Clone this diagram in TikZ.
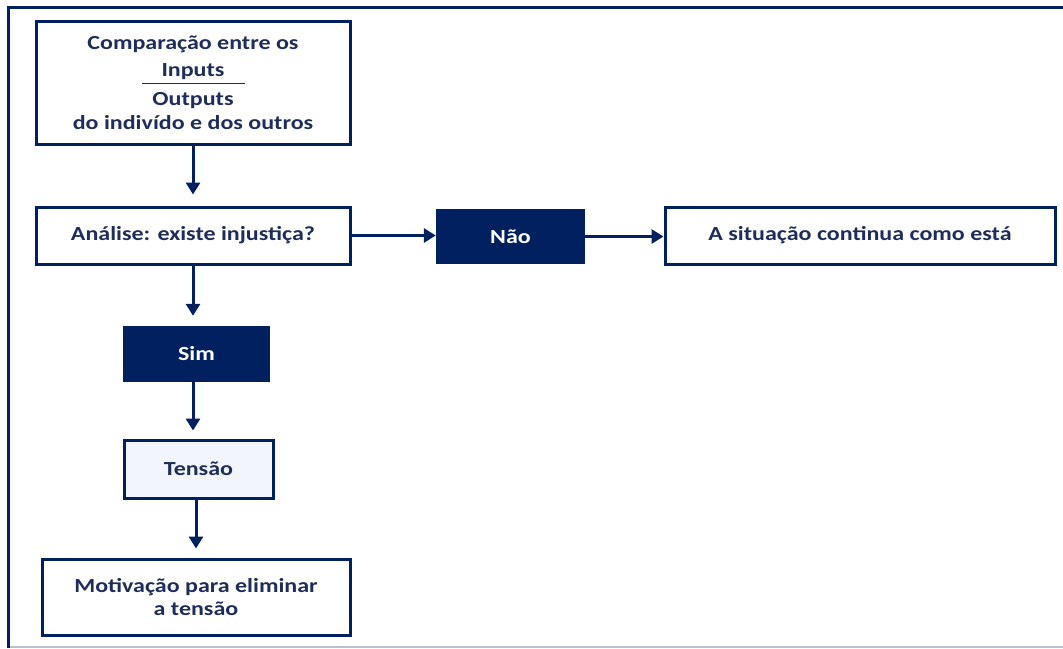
\documentclass[tikz,border=0pt]{standalone}
\usepackage{fontspec}
\setmainfont{Carlito}[FakeStretch = 1.2]
\usepackage{tikz}
\usetikzlibrary{arrows.meta}
\usetikzlibrary{positioning}
\definecolor{navy}{HTML}{002060}
\definecolor{inkblue}{HTML}{1F2D5A}
\definecolor{palefill}{HTML}{F2F5FB}
\definecolor{framegray}{HTML}{B8C0D4}
\tikzset{
    whitebox/.style = {draw = navy, line width = 3pt, fill = white, text = inkblue,
        font = \fontsize{20}{26}\selectfont\bfseries, align = center, inner sep = 0pt},
    navybox/.style = {fill = navy, text = white,
        font = \fontsize{20}{26}\selectfont\bfseries, align = center, inner sep = 0pt},
    flowarrow/.style = {draw = navy, line width = 3pt, -{Triangle[width = 14pt, length = 12pt]}}
}

\begin{document}
\begin{tikzpicture}[x = 1pt, y = -1pt]
                % Fix the page size:
                \useasboundingbox (0,0) rectangle (1063,648);

                % Draw the outer frame:
                \draw [draw = framegray, line width = 2pt] (8,647) -- (1063,647);
                \draw [draw = navy, line width = 3pt] (1063,7) -- (8,7) -- (8,648);

                % Draw the boxes:
                \node [whitebox, minimum width = 314pt, minimum height = 123pt] (Comparacao) at (193,82.5)
                    {Comparação entre os\\[1pt] Inputs\\[-18pt] \rule{103pt}{1.2pt}\\[-5pt] Outputs\\[-2pt] do indivído e dos outros};
                \node [whitebox, minimum width = 314pt, minimum height = 57pt] (Analise) at (193,235.5) {Análise: existe injustiça?};
                \node [navybox, minimum width = 149pt, minimum height = 55pt] (Nao) at (510.5,236.5) {Não};
                \node [whitebox, minimum width = 390pt, minimum height = 57pt] (Situacao) at (860,235.5) {A situação continua como está};
                \node [navybox, minimum width = 147pt, minimum height = 56pt] (Sim) at (196.5,354) {Sim};
                \node [whitebox, fill = palefill, minimum width = 149pt, minimum height = 58pt] (Tensao) at (198.5,469) {Tensão};
                \node [whitebox, minimum width = 308pt, minimum height = 76pt] (Motivacao) at (196,597)
                    {Motivação para eliminar\\[-3pt] a tensão};

                % Draw the arrows:
                \draw [flowarrow, shorten > = 11pt] (Comparacao.south) -- (Analise.north);
                \draw [flowarrow] (Analise.east) -- (Analise.east -| Nao.west);
                \draw [flowarrow] (Nao.east) -- (Nao.east -| Situacao.west);
                \draw [flowarrow, shorten > = 10pt] (Analise.south) -- (Analise.south |- Sim.north);
                \draw [flowarrow, shorten > = 8pt] (Sim.south -| Analise.south) -- (Analise.south |- Tensao.north);
                \draw [flowarrow, shorten > = 9pt] (Tensao.south -| Motivacao.north) -- (Motivacao.north);
            \end{tikzpicture}
\end{document}
